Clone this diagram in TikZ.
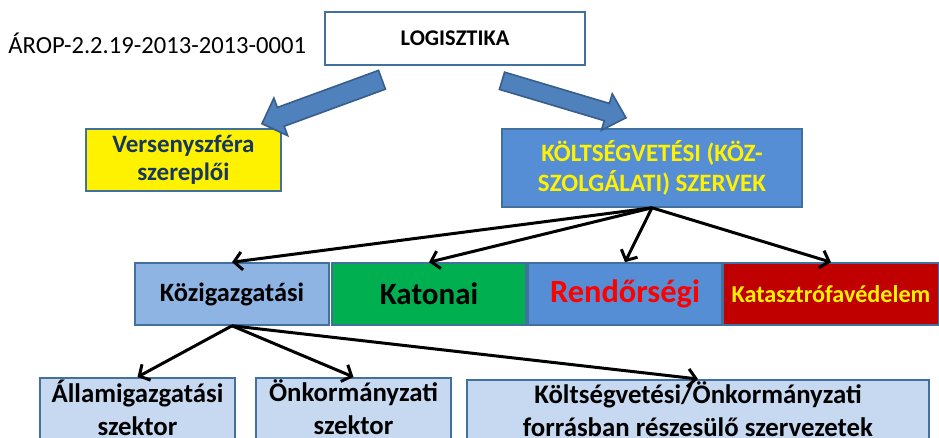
\documentclass[tikz,border=0pt]{standalone}
\usepackage{fontspec}
\setmainfont{Carlito}
\usepackage{xcolor}
\usetikzlibrary{arrows.meta,positioning,calc}

\definecolor{boxline}{HTML}{41719C}
\definecolor{arrowfill}{HTML}{4F81BD}
\definecolor{arrowline}{HTML}{385D8A}
\definecolor{midblue}{HTML}{558ED5}
\definecolor{lightblue}{HTML}{8EB4E3}
\definecolor{paleblue}{HTML}{C6D9F1}
\definecolor{armygreen}{HTML}{00B050}
\definecolor{darkred}{HTML}{C00000}
\definecolor{navytext}{HTML}{17375E}

\begin{document}
\begin{tikzpicture}[x=0.5pt, y=-0.5pt,
    box/.style={rectangle, draw=boxline, line width=0.8pt, inner sep=2pt, align=center,
        font=\bfseries\fontsize{13.4}{16.5}\selectfont},
    topbox/.style={box, fill=white, minimum width=130pt, minimum height=26.5pt},
    yelbox/.style={box, fill=yellow, text=navytext, minimum width=97.5pt, minimum height=31pt,
        font=\bfseries\fontsize{12.5}{14}\selectfont},
    orgbox/.style={box, fill=midblue, text=yellow, minimum width=150pt, minimum height=39pt,
        font=\bfseries\fontsize{12.5}{15}\selectfont},
    rowbox/.style={box, minimum width=97pt, minimum height=31pt},
    subbox/.style={box, fill=paleblue, anchor=north, inner ysep=1pt},
    % connectors
    link/.style={black, line width=1.5pt, -{Straight Barb[length=4pt, width=9pt]}},
    bigarrow/.style={fill=arrowfill, draw=arrowline, line width=0.8pt},
    ]

    \clip (0,0) rectangle (939,438);

    % top level
    \node[anchor=west, inner sep=0pt, font=\fontsize{12.3}{14}\selectfont] (code) at (8,43) {ÁROP-2.2.19-2013-2013-0001};
    \node[topbox, font=\bfseries\fontsize{11.2}{13}\selectfont] (logi) at (455,38.5) {LOGISZTIKA};

    % second level
    \node[yelbox] (vers) at (183.5,160) {Versenyszféra\\szereplői};
    \node[orgbox] (kolt) at (652,168) {KÖLTSÉGVETÉSI (KÖZ-\\SZOLGÁLATI) SZERVEK};

    % block arrows from LOGISZTIKA
    \coordinate (arrLs) at ($(logi.south)+(-73,14)$);
    \coordinate (arrRs) at ($(logi.south)+(47,15)$);
    \begin{scope}[shift={(arrLs)}, rotate=200.1]
        \draw[bigarrow] (0,-10) -- (107.8,-10) -- (107.8,-20) -- (127.8,0)
            -- (107.8,20) -- (107.8,10) -- (0,10) -- cycle;
    \end{scope}
    \begin{scope}[shift={(arrRs)}, rotate=-16.6]
        \draw[bigarrow] (0,-9) -- (109.4,-9) -- (109.4,-19) -- (129.4,0)
            -- (109.4,19) -- (109.4,9) -- (0,9) -- cycle;
    \end{scope}

    % third level
    \node[rowbox, fill=lightblue, font=\bfseries\fontsize{13.2}{15}\selectfont] (kozig) at (232,294) {Közigazgatási};
    \node[rowbox, fill=armygreen, font=\bfseries\fontsize{15.5}{17}\selectfont] (katon) at (429,294) {Katonai};
    \node[rowbox, fill=midblue, text=red, font=\bfseries\fontsize{16.2}{18}\selectfont] (rend) at (625,294) {Rendőrségi};
    \node[rowbox, fill=darkred, text=yellow, minimum width=108pt,
        font=\bfseries\fontsize{12.1}{13}\selectfont] (katv) at (831,294) {Katasztrófavédelem};

    \draw[link] (kolt.south) -- (kozig.north);
    \draw[link] (kolt.south) -- (katon.north);
    \draw[link] (kolt.south) -- (rend.north);
    \draw[link] (kolt.south) -- (katv.north);

    % fourth level (boxes run on below the lower edge)
    \node[subbox, minimum width=97.5pt] (allam) at (137.5,377) {Államigazgatási\\szektor\rule[-8pt]{0pt}{0pt}};
    \node[subbox, minimum width=97.5pt] (onk) at (353.5,377) {Önkormányzati\\szektor\rule[-8pt]{0pt}{0pt}};
    \node[subbox, minimum width=231pt] (forras) at (698,379) {Költségvetési/Önkormányzati\\forrásban részesülő szervezetek\rule[-8pt]{0pt}{0pt}};

    \draw[link] (kozig.south) -- (allam.north);
    \draw[link] (kozig.south) -- (onk.north);
    \draw[link] (kozig.south) -- (forras.north);

\end{tikzpicture}
\end{document}
